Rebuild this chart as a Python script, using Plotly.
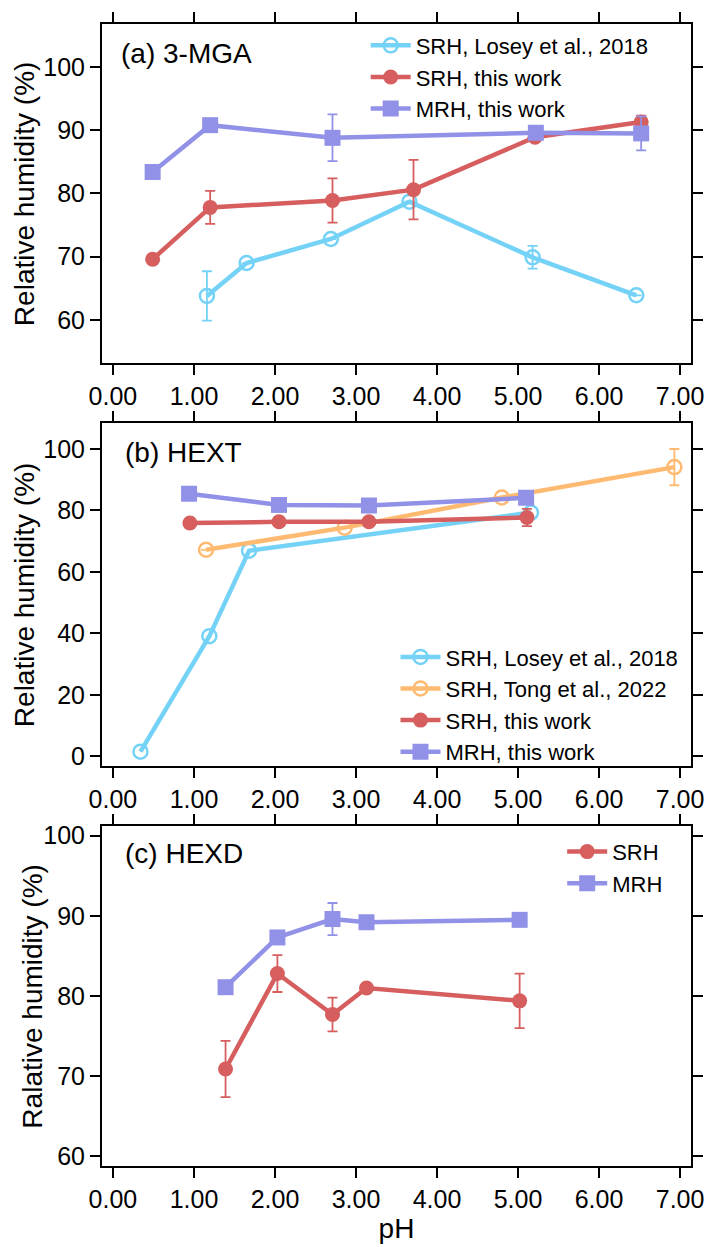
import plotly.graph_objects as go

# ---------------- data ----------------
# Panel (a) 3-MGA
a_losey_x = [1.16, 1.65, 2.69, 3.66, 5.18, 6.46]
a_losey_y = [63.8, 69.0, 72.8, 78.7, 69.9, 63.9]
a_losey_err = [3.9, 0, 0, 0, 1.8, 0]
a_srh_x = [0.49, 1.20, 2.71, 3.71, 5.21, 6.52]
a_srh_y = [69.6, 77.8, 78.9, 80.6, 88.9, 91.3]
a_srh_err = [0, 2.6, 3.5, 4.7, 0, 1.0]
a_mrh_x = [0.49, 1.20, 2.71, 5.22, 6.52]
a_mrh_y = [83.4, 90.8, 88.8, 89.6, 89.5]
a_mrh_err = [0, 0, 3.7, 0, 2.7]

# Panel (b) HEXT
b_losey_x = [0.34, 1.19, 1.68, 5.16]
b_losey_y = [1.5, 39.1, 66.9, 79.3]
b_tong_x = [1.15, 2.86, 4.80, 6.93]
b_tong_y = [67.2, 74.4, 84.2, 94.1]
b_tong_err = [0, 0, 0, 5.9]
b_srh_x = [0.95, 2.05, 3.16, 5.11]
b_srh_y = [75.9, 76.3, 76.3, 77.7]
b_srh_err = [0, 0, 0, 2.8]
b_mrh_x = [0.94, 2.05, 3.16, 5.10]
b_mrh_y = [85.4, 81.8, 81.6, 84.1]

# Panel (c) HEXD
c_x = [1.39, 2.03, 2.71, 3.13, 5.02]
c_srh_y = [70.9, 82.8, 77.7, 81.0, 79.4]
c_srh_err = [3.5, 2.3, 2.1, 0, 3.4]
c_mrh_y = [81.1, 87.3, 89.6, 89.2, 89.5]
c_mrh_err = [0, 0, 2.0, 0, 0]

x_tickvals = [0, 1, 2, 3, 4, 5, 6, 7]

# ---------------- styles ----------------
BLUE = "#74D2F7"
RED = "#D65E5E"
PURPLE = "#9191E8"
ORANGE = "#FFBA72"
FONT = "Liberation Sans, Arial, sans-serif"
LW = 4.5


def open_trace(x, y, err, color, name, xa, ya, legend):
    return go.Scatter(
        x=x, y=y, mode="lines+markers", name=name,
        line=dict(color=color, width=LW),
        marker=dict(symbol="circle-open", size=14, color=color, line=dict(width=2.5, color=color)),
        error_y=dict(type="data", array=err, visible=err is not None, color=color, thickness=1.8, width=5),
        xaxis=xa, yaxis=ya, legend=legend,
    )


def filled_trace(x, y, err, color, name, symbol, size, xa, ya, legend):
    return go.Scatter(
        x=x, y=y, mode="lines+markers", name=name,
        line=dict(color=color, width=LW),
        marker=dict(symbol=symbol, size=size, color=color),
        error_y=dict(type="data", array=err, visible=err is not None, color=color, thickness=1.8, width=5),
        xaxis=xa, yaxis=ya, legend=legend,
    )


fig = go.Figure()
# (a)
fig.add_trace(open_trace(a_losey_x, a_losey_y, a_losey_err, BLUE, "SRH, Losey et al., 2018", "x", "y", "legend"))
fig.add_trace(filled_trace(a_srh_x, a_srh_y, a_srh_err, RED, "SRH, this work", "circle", 15, "x", "y", "legend"))
fig.add_trace(filled_trace(a_mrh_x, a_mrh_y, a_mrh_err, PURPLE, "MRH, this work", "square", 16, "x", "y", "legend"))
# (b)
fig.add_trace(open_trace(b_losey_x, b_losey_y, None, BLUE, "SRH, Losey et al., 2018", "x2", "y2", "legend2"))
fig.add_trace(open_trace(b_tong_x, b_tong_y, b_tong_err, ORANGE, "SRH, Tong et al., 2022", "x2", "y2", "legend2"))
fig.add_trace(filled_trace(b_srh_x, b_srh_y, b_srh_err, RED, "SRH, this work", "circle", 15, "x2", "y2", "legend2"))
fig.add_trace(filled_trace(b_mrh_x, b_mrh_y, None, PURPLE, "MRH, this work", "square", 16, "x2", "y2", "legend2"))
# (c)
fig.add_trace(filled_trace(c_x, c_srh_y, c_srh_err, RED, "SRH", "circle", 15, "x3", "y3", "legend3"))
fig.add_trace(filled_trace(c_x, c_mrh_y, c_mrh_err, PURPLE, "MRH", "square", 16, "x3", "y3", "legend3"))

axis_common = dict(
    showline=True, linewidth=2, linecolor="black", mirror="ticks",
    ticks="outside", ticklen=10, tickwidth=2, tickcolor="black",
    showgrid=False, zeroline=False,
    tickfont=dict(family=FONT, size=25, color="black"),
)
x_common = dict(axis_common, range=[-0.135, 7.135], tickvals=x_tickvals, tickformat=".2f")

LEG_FONT = dict(family=FONT, size=22, color="black")
fig.update_layout(
    width=716, height=1247,
    margin=dict(l=102, r=20, t=22, b=76),
    paper_bgcolor="white", plot_bgcolor="white",
    font=dict(family=FONT, color="black"),
    xaxis=dict(x_common, domain=[0, 1], anchor="y"),
    yaxis=dict(axis_common, domain=[0.7032, 1.0], range=[53.2, 106.8], tickvals=[60, 70, 80, 90, 100], anchor="x"),
    xaxis2=dict(x_common, domain=[0, 1], anchor="y2"),
    yaxis2=dict(axis_common, domain=[0.3499, 0.6510], range=[-3.3, 108.6], tickvals=[0, 20, 40, 60, 80, 100], anchor="x2"),
    xaxis3=dict(x_common, domain=[0, 1], anchor="y3",
                title=dict(text="pH", font=dict(family=FONT, size=28), standoff=2)),
    yaxis3=dict(axis_common, domain=[0.0, 0.2977], range=[58.8, 101.2], tickvals=[60, 70, 80, 90, 100], anchor="x3"),
    legend=dict(x=0.4477, y=0.9995, xanchor="left", yanchor="top", xref="paper", yref="paper",
                bgcolor="rgba(0,0,0,0)", font=LEG_FONT, tracegroupgap=0, itemwidth=40),
    legend2=dict(x=0.4983, y=0.4640, xanchor="left", yanchor="top", xref="paper", yref="paper",
                 bgcolor="rgba(0,0,0,0)", font=LEG_FONT, tracegroupgap=0, itemwidth=40),
    legend3=dict(x=0.7813, y=0.2935, xanchor="left", yanchor="top", xref="paper", yref="paper",
                 bgcolor="rgba(0,0,0,0)", font=LEG_FONT, tracegroupgap=0, itemwidth=40),
    showlegend=True,
)

annotations = [
    dict(text="(a) 3-MGA", x=0.0286, y=0.9739, xanchor="left", yanchor="middle"),
    dict(text="(b) HEXT", x=0.035, y=0.6249, xanchor="left", yanchor="middle"),
    dict(text="(c) HEXD", x=0.035, y=0.2733, xanchor="left", yanchor="middle"),
]
for a in annotations:
    fig.add_annotation(xref="paper", yref="paper", showarrow=False,
                       font=dict(family=FONT, size=28, color="black"), **a)

ytitles = [
    ("Relative humidity (%)", -0.1313, (0.7032 + 1.0) / 2),
    ("Relative humidity (%)", -0.1313, (0.3499 + 0.6510) / 2),
    ("Ralative humidity (%)", -0.1195, 0.2977 / 2),
]
for t, x, y in ytitles:
    fig.add_annotation(text=t, xref="paper", yref="paper", x=x, y=y, textangle=-90,
                       xanchor="center", yanchor="middle", showarrow=False,
                       font=dict(family=FONT, size=28, color="black"))

fig.write_html("out.html", config={"displayModeBar": False},
               post_script="document.body.style.margin='0';")
